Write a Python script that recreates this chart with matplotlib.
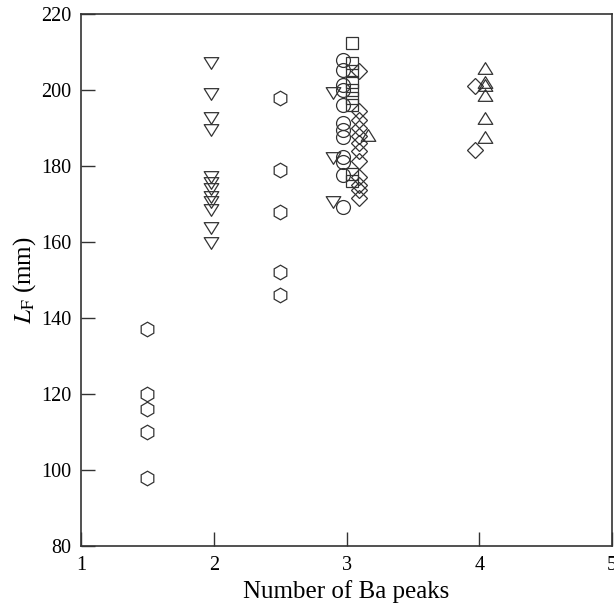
import numpy as np
import matplotlib
matplotlib.use("Agg")
import matplotlib.pyplot as plt
from matplotlib.path import Path

plt.rcParams['font.family'] = ['Liberation Serif', 'DejaVu Serif']
plt.rcParams['mathtext.fontset'] = 'stix'

# one ba peak, plotted at 1.5
hex1_x = [1.5, 1.5, 1.5, 1.5, 1.5]
hex1_y = [137, 120, 116, 110, 98]

# two peaks
dtri2_x = [1.98] * 12
dtri2_y = [207, 199, 192.6, 189.5, 177.2, 175.4, 173.9, 171.9, 170.6, 168.4, 163.6, 159.7]

hex2_x = [2.5] * 5
hex2_y = [198, 179, 168, 152, 146]

# three peaks
circ3_x = [2.97] * 12
circ3_y = [207.9, 205.3, 201.3, 200, 196, 191.2, 189.5, 187.7, 182.4, 181.1, 177.6, 169.3]

sq3_x = [3.04] * 9
sq3_y = [212.3, 207, 205, 202, 200, 198, 196, 178, 176]

dia3_x = [3.09] * 12
dia3_y = [205, 194.5, 192, 190, 188, 186, 184, 181.3, 177, 175.1, 173.8, 171.5]

dtri3_x = [2.90] * 3
dtri3_y = [199.2, 182.1, 170.5]

utri3_x = [3.16]
utri3_y = [188.2]

# four peaks
utri4_x = [4.04] * 6
utri4_y = [205.7, 202.2, 201.3, 198.7, 192.6, 187.7]

dia4_x = [3.97] * 2
dia4_y = [201.1, 184.2]

# flatter triangles than matplotlib's default ones
tri_down = Path([(-1, 0.8), (1, 0.8), (0, -0.8), (-1, 0.8)], closed=True)
tri_up = Path([(-1, -0.8), (1, -0.8), (0, 0.8), (-1, -0.8)], closed=True)

fig = plt.figure(figsize=(6.14, 6.05), dpi=100)
ax = fig.add_axes([0.132, 0.0975, 0.865, 0.8795])

ec = '#333333'
kw = dict(linestyle='none', markerfacecolor='none', markeredgecolor=ec, markeredgewidth=0.9)

ax.plot(sq3_x, sq3_y, marker='s', ms=9, **kw)
ax.plot(dtri3_x, dtri3_y, marker=tri_down, ms=10.5, **kw)
ax.plot(utri3_x, utri3_y, marker=tri_up, ms=10.5, **kw)
ax.plot(dia3_x, dia3_y, marker='D', ms=8, **kw)
ax.plot(circ3_x, circ3_y, marker='o', ms=10, **kw)
ax.plot(hex1_x, hex1_y, marker='h', ms=10.5, **kw)
ax.plot(hex2_x, hex2_y, marker='h', ms=10.5, **kw)
ax.plot(dtri2_x, dtri2_y, marker=tri_down, ms=10.5, **kw)
ax.plot(dia4_x, dia4_y, marker='D', ms=8, **kw)
ax.plot(utri4_x, utri4_y, marker=tri_up, ms=10.5, **kw)

ax.set_xlim(1, 5)
ax.set_ylim(80, 220)
ax.set_xticks([1, 2, 3, 4, 5])
ax.set_yticks(np.arange(80, 221, 20))
ax.tick_params(direction='in', length=10, width=1, colors=ec, labelcolor='black',
               labelsize=14.5, top=False, right=False, pad=7)
for s in ax.spines.values():
    s.set_color(ec)
    s.set_linewidth(1.2)

ax.set_xlabel('Number of Ba peaks', fontsize=18, labelpad=4)
ax.set_ylabel(r'$L_{\mathrm{F}}$ (mm)', fontsize=18, labelpad=2)

fig.savefig('out.png', dpi=100)
